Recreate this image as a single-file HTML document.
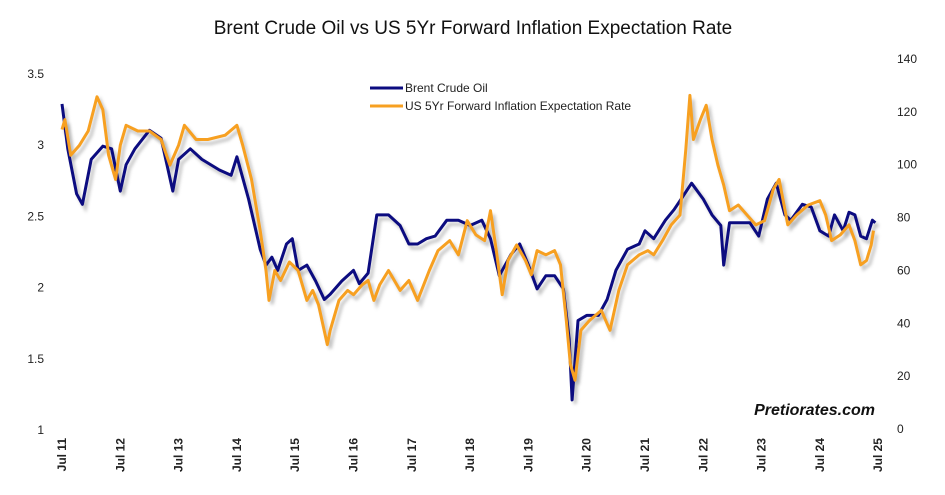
<!DOCTYPE html>
<html><head><meta charset="utf-8"><style>
body{margin:0;background:#fff;font-family:"Liberation Sans",sans-serif}
svg{display:block}
</style></head><body>
<svg id="chart" width="945" height="495" viewBox="0 0 945 495">
<defs><filter id="sh" x="-5%" y="-5%" width="110%" height="120%"><feGaussianBlur stdDeviation="1.5"/></filter></defs>
<rect width="945" height="495" fill="#fff"/>
<text x="473" y="34" text-anchor="middle" font-size="19" fill="#111">Brent Crude Oil vs US 5Yr Forward Inflation Expectation Rate</text>
<g id="yl"></g>
<g id="yr"></g>
<g id="xa"></g>
<g id="series"></g>
<g>
<line x1="370" y1="88" x2="403" y2="88" stroke="#0c0c80" stroke-width="3"/>
<text x="405" y="92" font-size="12" fill="#222">Brent Crude Oil</text>
<line x1="370" y1="106" x2="403" y2="106" stroke="#f7a021" stroke-width="3"/>
<text x="405" y="110" font-size="12" fill="#222">US 5Yr Forward Inflation Expectation Rate</text>
</g>
<text x="875" y="415" text-anchor="end" font-size="16" font-weight="bold" font-style="italic" fill="#111">Pretiorates.com</text>
</svg>
<script>
const leftTicks=[1,1.5,2,2.5,3,3.5];
const rightTicks=[0,20,40,60,80,100,120,140];
const xTickYears=[2011,2012,2013,2014,2015,2016,2017,2018,2019,2020,2021,2022,2023,2024,2025];
const xTickLabels=["Jul 11","Jul 12","Jul 13","Jul 14","Jul 15","Jul 16","Jul 17","Jul 18","Jul 19","Jul 20","Jul 21","Jul 22","Jul 23","Jul 24","Jul 25"];
const brentDates=[2011.5,2011.6,2011.75,2011.85,2012.0,2012.2,2012.35,2012.5,2012.6,2012.75,2013.0,2013.2,2013.4,2013.5,2013.7,2013.9,2014.2,2014.4,2014.5,2014.7,2014.9,2015.0,2015.1,2015.2,2015.35,2015.45,2015.55,2015.7,2015.85,2016.0,2016.1,2016.3,2016.5,2016.6,2016.75,2016.9,2017.1,2017.3,2017.45,2017.6,2017.75,2017.9,2018.1,2018.3,2018.5,2018.7,2018.85,2019.0,2019.2,2019.35,2019.5,2019.65,2019.8,2019.95,2020.1,2020.2,2020.25,2020.35,2020.5,2020.7,2020.85,2021.0,2021.2,2021.4,2021.5,2021.65,2021.85,2022.0,2022.15,2022.3,2022.5,2022.65,2022.8,2022.85,2022.95,2023.1,2023.3,2023.45,2023.6,2023.75,2023.9,2024.0,2024.2,2024.35,2024.5,2024.65,2024.75,2024.9,2025.0,2025.1,2025.2,2025.3,2025.4,2025.45];
const brentValues=[123,106,89,85,102,107,106,90,100,106,113,110,90,102,106,102,98,96,103,87,68,62,65,60,70,72,60,62,56,49,51,56,60,55,59,81,81,77,70,70,72,73,79,79,77,79,72,58,66,70,62,53,58,58,53,34,11,41,43,43,49,60,68,70,75,72,79,83,88,93,87,81,77,62,78,78,78,73,87,93,81,79,85,84,75,73,81,75,82,81,73,72,79,78];
const inflDates=[2011.5,2011.55,2011.65,2011.8,2011.95,2012.1,2012.2,2012.3,2012.42,2012.5,2012.6,2012.8,2013.0,2013.2,2013.35,2013.5,2013.6,2013.8,2014.0,2014.3,2014.5,2014.6,2014.75,2014.9,2015.0,2015.05,2015.15,2015.25,2015.4,2015.55,2015.7,2015.8,2015.9,2016.05,2016.1,2016.25,2016.4,2016.5,2016.65,2016.75,2016.85,2016.95,2017.1,2017.3,2017.45,2017.6,2017.8,2017.95,2018.15,2018.3,2018.45,2018.6,2018.75,2018.85,2018.95,2019.05,2019.15,2019.3,2019.45,2019.55,2019.65,2019.8,2019.95,2020.05,2020.15,2020.22,2020.3,2020.4,2020.55,2020.75,2020.9,2021.05,2021.2,2021.4,2021.55,2021.65,2021.8,2021.95,2022.1,2022.2,2022.27,2022.33,2022.45,2022.55,2022.65,2022.75,2022.85,2022.95,2023.1,2023.25,2023.4,2023.55,2023.7,2023.8,2023.95,2024.1,2024.3,2024.5,2024.6,2024.7,2024.85,2025.0,2025.1,2025.2,2025.3,2025.38,2025.42];
const inflValues=[3.11,3.18,2.93,3.0,3.1,3.34,3.25,2.93,2.76,3.0,3.14,3.1,3.1,3.04,2.86,3.0,3.14,3.04,3.04,3.07,3.14,3.0,2.76,2.4,2.12,1.91,2.12,2.05,2.18,2.12,1.91,1.98,1.88,1.6,1.7,1.91,1.98,1.95,2.02,2.05,1.91,2.02,2.12,1.98,2.05,1.91,2.12,2.26,2.33,2.23,2.47,2.37,2.33,2.54,2.26,1.95,2.19,2.3,2.19,2.09,2.26,2.23,2.26,2.16,1.77,1.46,1.35,1.7,1.77,1.84,1.7,1.98,2.16,2.23,2.26,2.23,2.33,2.44,2.51,2.97,3.35,3.04,3.18,3.28,3.04,2.86,2.72,2.54,2.58,2.51,2.44,2.47,2.69,2.76,2.44,2.51,2.58,2.61,2.51,2.33,2.37,2.44,2.33,2.16,2.19,2.3,2.4];

const NS="http://www.w3.org/2000/svg";
function x(t){return 62+(t-2011.5)*58.3;}
function yL(v){return 430-(v-1)*142.4;}
function yR(v){return 429-v*2.643;}
function mk(tag,attrs,parent){const e=document.createElementNS(NS,tag);for(const k in attrs)e.setAttribute(k,attrs[k]);parent.appendChild(e);return e;}

const yl=document.getElementById('yl');
leftTicks.forEach(v=>{const t=mk('text',{x:44,y:yL(v)+4,'text-anchor':'end','font-size':12,fill:'#222'},yl);


t.textContent=String(v);});
const yr=document.getElementById('yr');
rightTicks.forEach(v=>{const t=mk('text',{x:897,y:yR(v)+4,'font-size':12,fill:'#222'},yr);


t.textContent=String(v);});
const xa=document.getElementById('xa');
xTickYears.forEach((yr0,i)=>{const px=x(yr0+0.5)+4;const t=mk('text',{x:px,y:438,'text-anchor':'end','font-size':12,'font-weight':'bold',fill:'#222',transform:`rotate(-90 ${px} 438)`},xa);


t.textContent=xTickLabels[i];});

const sg=document.getElementById('series');
function path(dates,vals,yf){return dates.map((d,i)=>(i?'L':'M')+x(d).toFixed(1)+','+yf(vals[i]).toFixed(1)).join(' ');}
const pb=path(brentDates,brentValues,yR), pi=path(inflDates,inflValues,yL);
const s1=mk('path',{d:pb,fill:'none',stroke:'#999',"stroke-width":3,transform:'translate(3,4)',filter:'url(#sh)',opacity:0.6},sg);


const s2=mk('path',{d:pi,fill:'none',stroke:'#999',"stroke-width":3,transform:'translate(3,4)',filter:'url(#sh)',opacity:0.6},sg);


const l1=mk('path',{d:pb,fill:'none',stroke:'#0c0c80',"stroke-width":3,"stroke-linejoin":'round'},sg);


const l2=mk('path',{d:pi,fill:'none',stroke:'#f7a021',"stroke-width":3,"stroke-linejoin":'round'},sg);


</script>
</body></html>
